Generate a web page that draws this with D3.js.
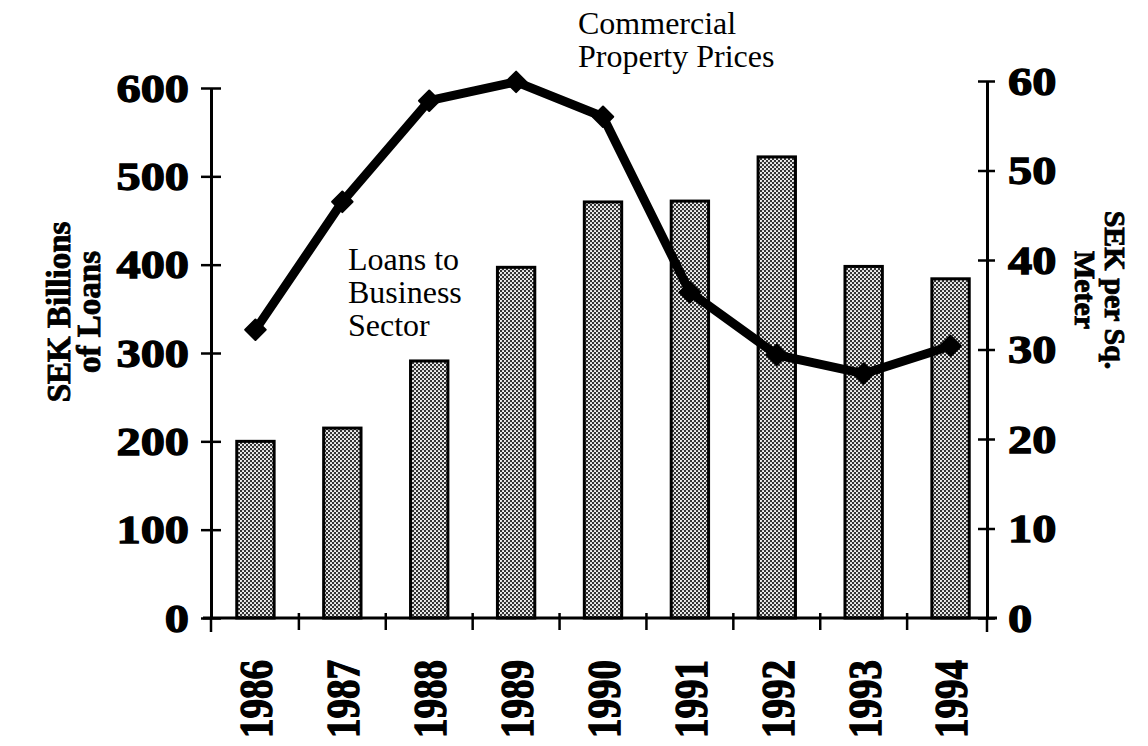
<!DOCTYPE html>
<html>
<head>
<meta charset="utf-8">
<script src="https://cdn.jsdelivr.net/npm/d3@7"></script>
<style>
  html, body { margin: 0; padding: 0; background: #fff; }
  svg { display: block; }
  text { font-family: "Liberation Serif", "Times New Roman", serif; fill: #000; }
</style>
</head>
<body>
<svg id="chart" width="1148" height="746"></svg>
<script>
// Swedish business lending and commercial property prices, 1986-1994
const years = ["1986", "1987", "1988", "1989", "1990", "1991", "1992", "1993", "1994"];
const loans = [200, 215, 291, 397, 471, 472, 522, 398, 384];          // SEK billions
const propertyPrices = [32.2, 46.5, 57.8, 59.9, 56.0, 36.4, 29.4, 27.3, 30.4]; // SEK per sq. meter
const loanTicks = [0, 100, 200, 300, 400, 500, 600];
const priceTicks = [0, 10, 20, 30, 40, 50, 60];

const svg = d3.select("#chart");

const baseY = 618;
const leftX = 211, rightX = 987;

const x = d3.scaleBand().domain(years).range([212, 994]).paddingInner(0.57).paddingOuter(0.285);
const xStep = d3.scaleBand().domain(years).range([212, 994]);
const yL = d3.scaleLinear().domain([0, 600]).range([baseY, 88]);
const yR = d3.scaleLinear().domain([0, 60]).range([baseY, 81]);

// stippled bar fill
const defs = svg.append("defs");
const pat = defs.append("pattern").attr("id", "stipple")
  .attr("patternUnits", "userSpaceOnUse").attr("width", 4).attr("height", 4);
pat.append("rect").attr("width", 4).attr("height", 4).attr("fill", "#333");
pat.append("circle").attr("cx", 1).attr("cy", 1).attr("r", 1.05).attr("fill", "#fff");
pat.append("circle").attr("cx", 3).attr("cy", 3).attr("r", 1.05).attr("fill", "#fff");

// bars
svg.append("g").selectAll("rect").data(years).join("rect")
  .attr("x", d => x(d))
  .attr("y", (d, i) => yL(loans[i]))
  .attr("width", x.bandwidth())
  .attr("height", (d, i) => baseY - yL(loans[i]))
  .attr("fill", "url(#stipple)")
  .attr("stroke", "#000").attr("stroke-width", 3);

// x axis
const gx = svg.append("g").attr("transform", `translate(0,${baseY})`);
gx.append("line").attr("x1", 203).attr("x2", 997).attr("stroke", "#000").attr("stroke-width", 3);
const bounds = years.slice(1).map(d => xStep(d));
gx.selectAll("line.tk").data(bounds).join("line").attr("class", "tk")
  .attr("x1", d => d).attr("x2", d => d).attr("y1", -5).attr("y2", 12)
  .attr("stroke", "#000").attr("stroke-width", 2.5);
gx.append("line").attr("x1", leftX).attr("x2", leftX).attr("y1", 0).attr("y2", 14)
  .attr("stroke", "#000").attr("stroke-width", 2.5);
gx.append("line").attr("x1", rightX).attr("x2", rightX).attr("y1", 0).attr("y2", 14)
  .attr("stroke", "#000").attr("stroke-width", 2.5);

gx.selectAll("text.yr").data(years).join("text").attr("class", "yr")
  .attr("transform", d => `translate(${x(d) + x.bandwidth() / 2},${660 - baseY}) scale(1.2,1) rotate(-90)`)
  .attr("text-anchor", "end")
  .attr("dy", "0.36em")
  .attr("font-size", 39).attr("font-weight", "bold")
  .attr("stroke", "#000").attr("stroke-width", 1.2)
  .text(d => d);

// left axis
const axL = d3.axisLeft(yL).tickValues(loanTicks).tickSizeInner(10).tickSizeOuter(0).tickPadding(12);
const gL = svg.append("g").attr("transform", `translate(${leftX},0)`).call(axL);
gL.select(".domain").attr("stroke-width", 3);
gL.selectAll(".tick line").attr("x1", -10).attr("x2", 10).attr("stroke-width", 2.5);
gL.selectAll(".tick text")
  .attr("font-family", "Liberation Serif, Times New Roman, serif")
  .attr("font-size", 41).attr("font-weight", "bold")
  .attr("stroke", "#000").attr("stroke-width", 1.3)
  .attr("transform", "scale(1.18,1)")
  .attr("x", -22 / 1.18);

// right axis
const axR = d3.axisRight(yR).tickValues(priceTicks).tickSizeInner(8).tickSizeOuter(0).tickPadding(12);
const gR = svg.append("g").attr("transform", `translate(${rightX},0)`).call(axR);
gR.select(".domain").attr("stroke-width", 3);
gR.selectAll(".tick line").attr("x1", -9).attr("x2", 8).attr("stroke-width", 2.5);
gR.selectAll(".tick text")
  .attr("font-family", "Liberation Serif, Times New Roman, serif")
  .attr("font-size", 41).attr("font-weight", "bold")
  .attr("stroke", "#000").attr("stroke-width", 1.3)
  .attr("transform", "scale(1.18,1)")
  .attr("x", 21 / 1.18);

// property price line
const cx = d => x(d) + x.bandwidth() / 2;
const line = d3.line().x((d, i) => cx(years[i])).y(d => yR(d));
svg.append("path").datum(propertyPrices)
  .attr("d", line).attr("fill", "none")
  .attr("stroke", "#000").attr("stroke-width", 9)
  .attr("stroke-linejoin", "round").attr("stroke-linecap", "round");
svg.append("g").selectAll("path").data(propertyPrices).join("path")
  .attr("d", d3.symbol().type(d3.symbolSquare).size(210))
  .attr("transform", (d, i) => `translate(${cx(years[i])},${yR(d)}) rotate(45)`)
  .attr("fill", "#000").attr("stroke", "#000").attr("stroke-width", 2).attr("stroke-linejoin", "round");

// axis titles
const titleL = svg.append("text")
  .attr("transform", "translate(70,312) rotate(-90)")
  .attr("text-anchor", "middle").attr("font-size", 33).attr("font-weight", "bold")
  .attr("stroke", "#000").attr("stroke-width", 0.9);
titleL.append("tspan").attr("x", 0).attr("dy", 0).text("SEK Billions");
titleL.append("tspan").attr("x", 0).attr("dy", 30).text("of Loans");

const titleR = svg.append("text")
  .attr("transform", "translate(1105,290) rotate(90)")
  .attr("text-anchor", "middle").attr("font-size", 30).attr("font-weight", "bold")
  .attr("stroke", "#000").attr("stroke-width", 0.9);
titleR.append("tspan").attr("x", 0).attr("dy", 0).text("SEK per Sq.");
titleR.append("tspan").attr("x", 0).attr("dy", 30).text("Meter");

// series annotations
const noteLoans = svg.append("text").attr("font-size", 32).attr("x", 348).attr("y", 270);
["Loans to", "Business", "Sector"].forEach((s, i) =>
  noteLoans.append("tspan").attr("x", 348).attr("dy", i === 0 ? 0 : 33).text(s));

const notePrices = svg.append("text").attr("font-size", 32).attr("x", 578).attr("y", 34);
["Commercial", "Property Prices"].forEach((s, i) =>
  notePrices.append("tspan").attr("x", 578).attr("dy", i === 0 ? 0 : 33).text(s));
</script>
</body>
</html>
